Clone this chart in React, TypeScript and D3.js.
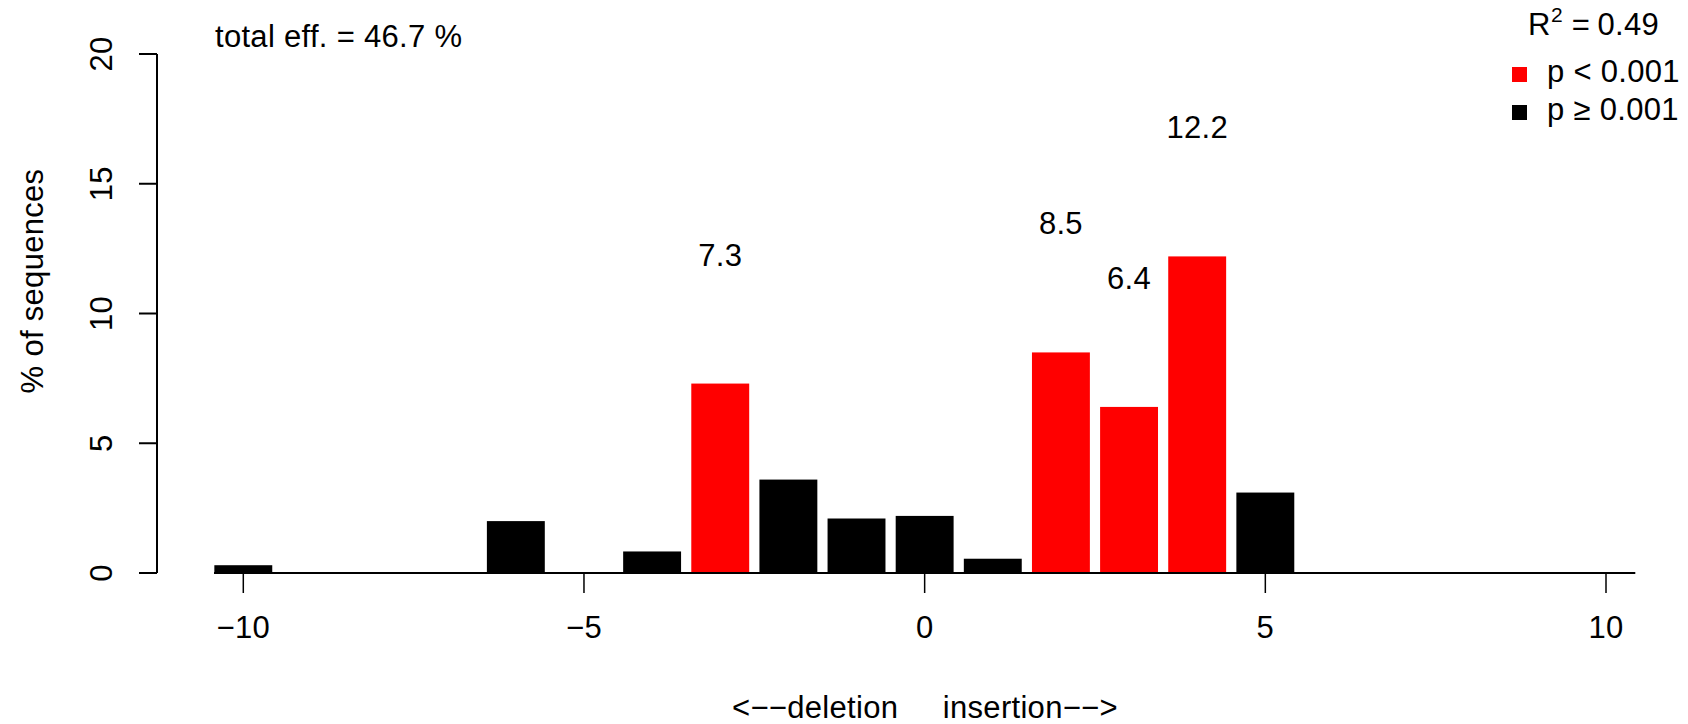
import React from "react";
import * as d3 from "d3";

// ---- data ----
const positions = [-10, -6, -4, -3, -2, -1, 0, 1, 2, 3, 4, 5];
const values = [0.3, 2.0, 0.83, 7.3, 3.6, 2.1, 2.2, 0.55, 8.5, 6.4, 12.2, 3.1];
const significant = [false, false, false, true, false, false, false, false, true, true, true, false];
const xTicks = [-10, -5, 0, 5, 10];
const yTicks = [0, 5, 10, 15, 20];
const titleText = "total eff. = 46.7 %";
const r2Value = "0.49";
const legendLabels = ["p < 0.001", "p \u2265 0.001"];
const legendColors = ["#ff0000", "#000000"];
const xLabel = "<\u2212\u2212deletion     insertion\u2212\u2212>";
const yLabel = "% of sequences";

const W = 1688;
const H = 724;
const FONT = "'Liberation Sans', Arial, Helvetica, sans-serif";
const FS = 31;
const LS = 0.3;

export default function App() {
  const x = d3.scaleLinear().domain([-10, 10]).range([243.3, 1606]);
  const y = d3.scaleLinear().domain([0, 20]).range([573, 54]);
  const barW = 0.85;
  const fmt = (v: number) => (v < 0 ? "\u2212" + Math.abs(v) : String(v));

  const data = positions.map((p, i) => ({ p, v: values[i], sig: significant[i] }));

  return (
    <svg
      width={W}
      height={H}
      viewBox={`0 0 ${W} ${H}`}
      style={{ display: "block", position: "absolute", left: 0, top: 0, background: "#fff" }}
      fontFamily={FONT}
      letterSpacing={LS}
    >
      <rect x={0} y={0} width={W} height={H} fill="#fff" />
      {/* bars */}
      {data.map((d, i) => (
        <rect
          key={i}
          x={x(d.p - barW / 2)}
          y={y(d.v)}
          width={x(d.p + barW / 2) - x(d.p - barW / 2)}
          height={y(0) - y(d.v)}
          fill={d.sig ? "#ff0000" : "#000000"}
        />
      ))}
      {/* value labels for significant bars */}
      {data
        .filter((d) => d.sig)
        .map((d, i) => (
          <text
            key={i}
            x={x(d.p)}
            y={y(d.v + 4.95)}
            textAnchor="middle"
            dominantBaseline="central"
            fontSize={FS}
            fill="#000"
          >
            {d.v.toFixed(1)}
          </text>
        ))}
      {/* x baseline */}
      <line x1={x(-10.43)} x2={x(10.43)} y1={y(0)} y2={y(0)} stroke="#000" strokeWidth={2} />
      {/* x ticks */}
      {xTicks.map((t) => (
        <g key={t}>
          <line x1={x(t)} x2={x(t)} y1={y(0)} y2={y(0) + 20} stroke="#000" strokeWidth={1.5} />
          <text x={x(t)} y={627} textAnchor="middle" dominantBaseline="central" fontSize={FS}>
            {fmt(t)}
          </text>
        </g>
      ))}
      {/* y axis */}
      <line x1={157} x2={157} y1={y(0)} y2={y(20)} stroke="#000" strokeWidth={2} />
      {yTicks.map((t) => (
        <g key={t}>
          <line x1={139} x2={157} y1={y(t)} y2={y(t)} stroke="#000" strokeWidth={2} />
          <text
            transform={`translate(101,${y(t)}) rotate(-90)`}
            textAnchor="middle"
            dominantBaseline="central"
            fontSize={FS}
          >
            {t}
          </text>
        </g>
      ))}
      {/* axis titles */}
      <text
        transform={`translate(32,281) rotate(-90)`}
        textAnchor="middle"
        dominantBaseline="central"
        fontSize={FS}
      >
        {yLabel}
      </text>
      <text x={925} y={718} textAnchor="middle" fontSize={FS} style={{ whiteSpace: "pre" }}>
        {xLabel}
      </text>
      {/* title */}
      <text x={215} y={47} fontSize={FS}>
        {titleText}
      </text>
      {/* R^2 */}
      <text x={1528} y={35} fontSize={FS}>
        R
      </text>
      <text x={1551} y={22} fontSize={21}>
        2
      </text>
      <text x={1581} y={35} fontSize={FS} textAnchor="middle">
        =
      </text>
      <text x={1659} y={35} fontSize={FS} textAnchor="end">
        {r2Value}
      </text>
      {/* legend */}
      {legendLabels.map((l, i) => (
        <g key={i}>
          <rect x={1512} y={67 + i * 38} width={15} height={15} fill={legendColors[i]} />
          <text x={1547} y={82 + i * 38} fontSize={FS}>
            {l}
          </text>
        </g>
      ))}
    </svg>
  );
}
